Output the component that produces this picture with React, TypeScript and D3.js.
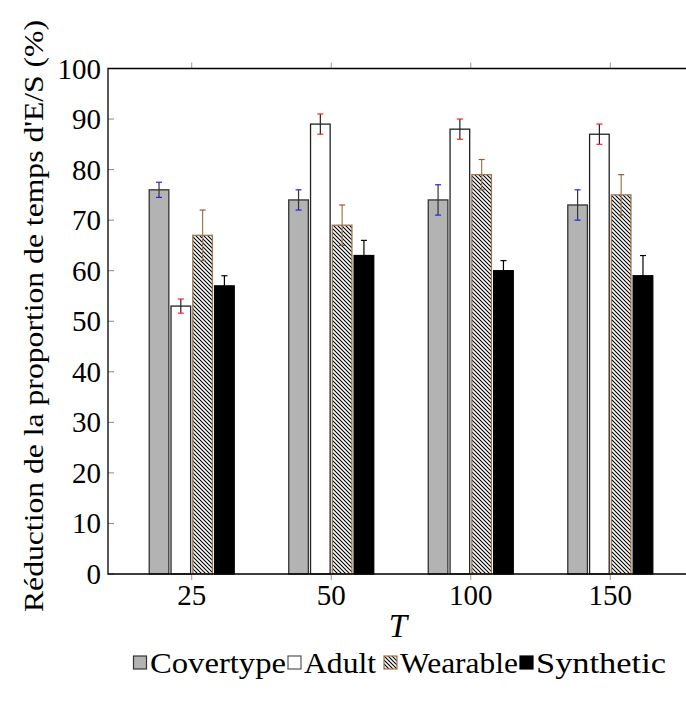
import React from 'react';
import * as d3 from 'd3';

// values
const categories = ['25', '50', '100', '150'];
const seriesNames = ['Covertype', 'Adult', 'Wearable', 'Synthetic'];
const covertype = [76, 74, 74, 73];
const covertypeErr = [1.5, 2, 3, 3];
const adult = [53, 89, 88, 87];
const adultErr = [1.4, 2, 2, 2];
const wearable = [67, 69, 79, 75];
const wearableErr = [5, 4, 3, 4];
const synthetic = [57, 63, 60, 59];
const syntheticErr = [2, 3, 2, 4];
const yTicks = [0, 10, 20, 30, 40, 50, 60, 70, 80, 90, 100];

const series = [
    { name: seriesNames[0], values: covertype, err: covertypeErr, fill: '#b3b3b3', stroke: '#333333', errLine: '#333333', cap: '#2020ff' },
    { name: seriesNames[1], values: adult, err: adultErr, fill: '#ffffff', stroke: '#222222', errLine: '#222222', cap: '#ff2020' },
    { name: seriesNames[2], values: wearable, err: wearableErr, fill: 'url(#nwlines)', stroke: '#a07850', errLine: '#a07850', cap: '#8a6040' },
    { name: seriesNames[3], values: synthetic, err: syntheticErr, fill: '#000000', stroke: '#000000', errLine: '#000000', cap: '#000000' },
];

const txt = { fontFamily: "'Tinos'" };

const W = 686;
const H = 710;
const left = 108;
const right = 694;
const top = 68.5;
const bottom = 574;

export default function App() {
    const x = d3.scalePoint<string>().domain(categories).range([left, right]).padding(0.6);
    const xs = d3.scaleBand<string>().domain(seriesNames).range([-42.5, 42.5]).paddingInner(0.1);
    const y = d3.scaleLinear().domain([0, 100]).range([bottom, top]);
    const bw = xs.bandwidth();

    // legend layout (square start, text start, text length)
    const legend = [
        { sq: 133.5, tx: 150, len: 136 },
        { sq: 288, tx: 304, len: 72 },
        { sq: 384, tx: 400, len: 118 },
        { sq: 520, tx: 536, len: 130 },
    ];

    return (
        <svg width={W} height={H} style={{ position: 'absolute', left: 0, top: 0 }}>
            <defs>
                <pattern id="nwlines" patternUnits="userSpaceOnUse" width={4} height={4}>
                    <rect width={4} height={4} fill="#fff" />
                    <path d="M-1,-1 L5,5 M-1,3 L1,5 M3,-1 L5,1" stroke="#000" strokeWidth={1.1} />
                </pattern>
            </defs>

            {/* ticks */}
            {yTicks.map(t => (
                <g key={'yt' + t}>
                    <line x1={left} x2={left + 6} y1={y(t)} y2={y(t)} stroke="#888" strokeWidth={1} />
                    <text x={101} y={y(t) + 10} textAnchor="end" fontSize={29} style={txt}>{t}</text>
                </g>
            ))}
            {categories.map(c => (
                <g key={'xt' + c}>
                    <line x1={x(c)} x2={x(c)} y1={bottom} y2={bottom + 6} stroke="#999" strokeWidth={1} />
                    <line x1={x(c)} x2={x(c)} y1={top} y2={top - 6} stroke="#999" strokeWidth={1} />
                    <text x={x(c)} y={605} textAnchor="middle" fontSize={29} style={txt}>{c}</text>
                </g>
            ))}

            {/* bars */}
            {series.map(s => (
                <g key={s.name}>
                    {categories.map((c, i) => (
                        <rect key={c}
                            x={(x(c) as number) + (xs(s.name) as number)}
                            y={y(s.values[i])}
                            width={bw}
                            height={y(0) - y(s.values[i])}
                            fill={s.fill}
                            stroke={s.stroke}
                            strokeWidth={1.3} />
                    ))}
                </g>
            ))}

            {/* error bars */}
            {series.map(s => (
                <g key={'e' + s.name}>
                    {categories.map((c, i) => {
                        const cx = (x(c) as number) + (xs(s.name) as number) + bw / 2;
                        const hi = y(s.values[i] + s.err[i]);
                        const lo = y(s.values[i] - s.err[i]);
                        return (
                            <g key={c}>
                                <line x1={cx} x2={cx} y1={hi} y2={lo} stroke={s.errLine} strokeWidth={1.2} />
                                <line x1={cx - 3} x2={cx + 3} y1={hi} y2={hi} stroke={s.cap} strokeWidth={1.2} />
                                <line x1={cx - 3} x2={cx + 3} y1={lo} y2={lo} stroke={s.cap} strokeWidth={1.2} />
                            </g>
                        );
                    })}
                </g>
            ))}

            {/* frame */}
            <path d={`M${right},${top} H${left} V${bottom} H${right} V${top}`} fill="none" stroke="#000" strokeWidth={1.3} />

            {/* axis labels */}
            <text transform="translate(43,316) rotate(-90)" textAnchor="middle" fontSize={28} style={txt}
                textLength={592} lengthAdjust="spacingAndGlyphs">Réduction de la proportion de temps d'E/S (%)</text>
            <text x={398} y={637} textAnchor="middle" fontStyle="italic" fontSize={33} style={txt}>T</text>

            {/* legend */}
            {series.map((s, i) => (
                <g key={'l' + s.name}>
                    <rect x={legend[i].sq} y={656} width={13} height={13} fill={s.fill} stroke={i === 1 ? '#555' : s.stroke} strokeWidth={1.2} />
                    <text x={legend[i].tx} y={673} fontSize={29} style={txt}
                        textLength={legend[i].len} lengthAdjust="spacingAndGlyphs">{s.name}</text>
                </g>
            ))}
        </svg>
    );
}
